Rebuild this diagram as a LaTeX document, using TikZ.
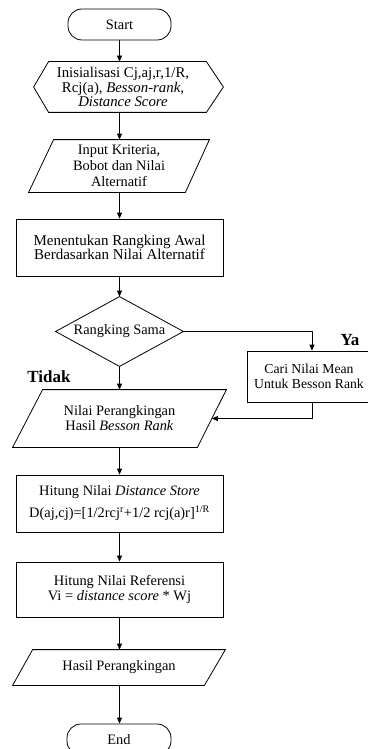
\documentclass[tikz,border=0pt]{standalone}
\usepackage{fontspec}
\setmainfont{Liberation Serif}
\usetikzlibrary{arrows.meta}
\begin{document}
\begin{tikzpicture}[x=1pt,y=-1pt, line width=0.8pt,
  txt/.style={rectangle, inner sep=0pt, align=center, font=\fontsize{14.4}{15}\selectfont},
  box/.style={txt, draw},
  term/.style={txt, draw, rounded corners=14pt},
  arr/.style={-{Triangle[length=6pt,width=5pt]}},
  lbl/.style={font=\fontsize{17}{17}\selectfont\bfseries}
]
\useasboundingbox (0,0) rectangle (367,749);
\coordinate (col) at (119.5,0);

% shapes
\node[term, minimum width=103pt, minimum height=31pt] (start) at (119.5,24.5) {Start};

\node[txt, minimum width=189pt, minimum height=50pt] (init) at (128.5,87) {};
\node[txt, font=\fontsize{14.8}{14.5}\selectfont] (initx) at (123,87) {Inisialisasi Cj,aj,r,1/R,\\ Rcj(a), \textit{Besson-rank},\\ \textit{Distance Score}};
\draw (init.west) -- ([xshift=15pt]init.north west) -- ([xshift=-17pt]init.north east) -- (init.east) -- ([xshift=-17pt]init.south east) -- ([xshift=15pt]init.south west) -- cycle;

\node[txt, minimum width=180pt, minimum height=52pt, font=\fontsize{14.4}{16}\selectfont] (inp) at (119,166) {Input Kriteria,\\ Bobot dan Nilai\\ Alternatif};
\draw ([xshift=25pt]inp.north west) -- (inp.north east) -- ([xshift=-24pt]inp.south east) -- (inp.south west) -- cycle;

\node[box, minimum width=207pt, minimum height=57pt, font=\fontsize{15}{14}\selectfont] (men) at (119.5,247.5) {Menentukan Rangking Awal\\ Berdasarkan Nilai Alternatif};

\node[txt, minimum width=127pt, minimum height=69pt] (dia) at (119.5,331.5) {Rangking Sama};
\draw (dia.north) -- (dia.east) -- (dia.south) -- (dia.west) -- cycle;

\node[box, minimum width=124pt, minimum height=51pt, font=\fontsize{13.7}{15}\selectfont] (cari) at (309,376.5) {Cari Nilai Mean\\ Untuk Besson Rank};

\node[txt, minimum width=213pt, minimum height=57pt] (nil) at (119.5,418.5) {Nilai Perangkingan\\ Hasil \textit{Besson Rank}};
\draw ([xshift=30pt]nil.north west) -- (nil.north east) -- ([xshift=-29pt]nil.south east) -- (nil.south west) -- cycle;

\node[box, minimum width=207pt, minimum height=57pt] (h1) at (119.5,503.5) {Hitung Nilai \textit{Distance Store}\\[7pt] D(aj,cj)=[1/2rcj\textsuperscript{r}+1/2 rcj(a)r]\textsuperscript{1/R}};

\node[box, minimum width=207pt, minimum height=55pt] (h2) at (119.5,589.5) {Hitung Nilai Referensi\\ Vi = \textit{distance score} * Wj};

\node[txt, minimum width=212pt, minimum height=35pt] (has) at (119,667.5) {Hasil Perangkingan};
\draw ([xshift=20pt]has.north west) -- (has.north east) -- ([xshift=-21pt]has.south east) -- (has.south west) -- cycle;

\node[term, minimum width=104pt, minimum height=31pt] (end) at (119,739.5) {End};

% labels
\node[lbl] (ya) at (350,340) {Ya};
\node[lbl] (tidak) at (49,377) {Tidak};

% connectors
\draw[arr] (start.south -| col) -- (init.north -| col);
\draw[arr] (init.south -| col) -- (inp.north -| col);
\draw[arr] (inp.south -| col) -- (men.north -| col);
\draw[arr] (men.south -| col) -- (dia.north -| col);
\draw[arr] (dia.south -| col) -- (nil.north -| col);
\draw[arr] (dia.east) -| ([xshift=3pt]cari.north);
\draw[arr] ([xshift=3pt]cari.south) |- ([xshift=-14.5pt]nil.east);
\draw[arr] (nil.south -| col) -- (h1.north -| col);
\draw[arr] (h1.south -| col) -- (h2.north -| col);
\draw[arr] (h2.south -| col) -- (has.north -| col);
\draw[arr] (has.south -| col) -- (end.north -| col);
\end{tikzpicture}
\end{document}
